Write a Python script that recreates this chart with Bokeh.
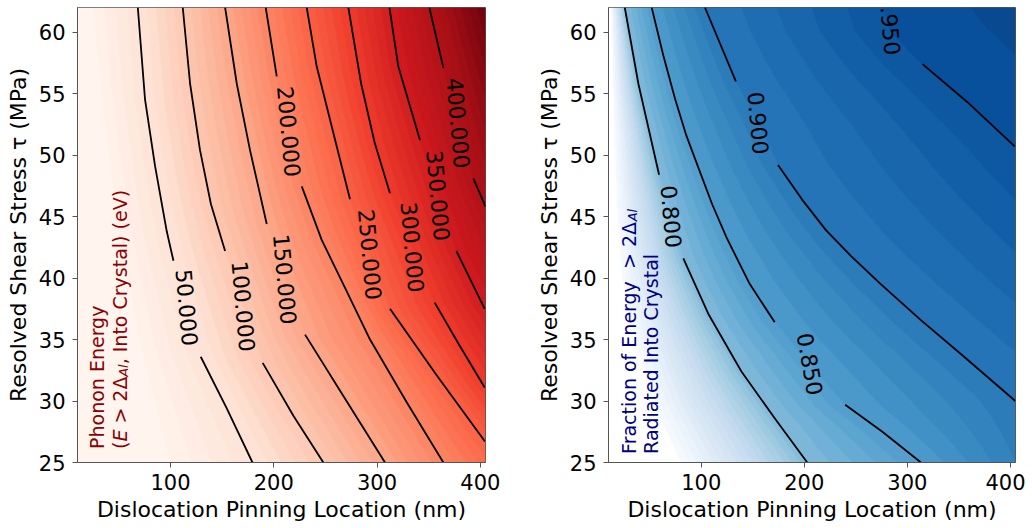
import numpy as np
from bokeh.plotting import figure
from bokeh.layouts import row
from bokeh.models import LinearColorMapper, FixedTicker, Range1d
from bokeh.palettes import Reds256, Blues256
from bokeh.embed import file_html
from bokeh.resources import INLINE
from bokeh.core.properties import value

# ---------------- values ----------------
X_START, X_END = 10, 405          # dislocation pinning location (nm)
TAU_START, TAU_END = 25, 62       # resolved shear stress (MPa)
X_TICKS = [100, 200, 300, 400]
TAU_TICKS = [25, 30, 35, 40, 45, 50, 55, 60]

# Left panel: phonon energy contour lines (eV): points (x nm, tau MPa)
E_LEVELS = [50, 100, 150, 200, 250, 300, 350, 400]
E_UPPER_X = [[68.4, 75.4, 85.1, 96.4, 102.9],
             [111.9, 119.0, 128.6, 139.2, 152.9],
             [152.9, 164.2, 177.0, 193.2],
             [192.2, 202.9],
             [231.9, 241.6, 257.7, 273.8],
             [272.2, 284.6, 297.7, 312.5],
             [312.0, 320.6, 341.6],
             [350.6, 364.2]]
E_UPPER_T = [[62, 54.5, 49.1, 43.8, 41.4],
             [62, 55.8, 50.4, 46.0, 42.2],
             [62, 55.8, 50.4, 44.4],
             [62, 56.4],
             [62, 57.2, 51.8, 46.4],
             [62, 55.8, 51.0, 46.9],
             [62, 57.2, 51.2],
             [62, 57.1]]
E_LOWER_X = [[129.3, 154.5, 179.4],
             [189.3, 219.0, 248.0],
             [230.3, 267.4, 307.7],
             [227.1, 246.4, 269.6, 293.2, 328.7, 364.2],
             [312.5, 357.7, 404.5],
             [355.8, 380.0, 404.2],
             [376.8, 404.2],
             [393.2, 405.0]]
E_LOWER_T = [[33.6, 29.4, 25],
             [33.1, 28.8, 25],
             [35.4, 30.4, 25],
             [47.45, 43.1, 39.1, 35.0, 29.9, 25],
             [37.5, 32.1, 26.7],
             [38.0, 34.5, 31.1],
             [42.2, 37.5],
             [48.1, 45.8]]
E_LABEL_X = [115.8, 170.6, 210.9, 214.8, 293.2, 334.2, 359.2, 378.7]
E_LABEL_T = [37.6, 37.7, 39.9, 51.9, 41.9, 42.5, 46.7, 52.6]
E_LABEL_TEXT = ["50.000", "100.000", "150.000", "200.000",
                "250.000", "300.000", "350.000", "400.000"]
E_LABEL_ANGLE = [-85, -85, -85, -85, -85, -85, -85, -85]
E_FAINT = 10                      # edge of the near-white region
E_FAINT_T = [25, 35, 45, 55, 62]
E_FAINT_X = [100, 70, 48, 33, 25]
E_LEFT_T = [25, 62]
E_LEFT_EDGE = [0, 0]
E_RIGHT_T = [25, 26.7, 31.1, 37.5, 45.8, 50, 55, 62]
E_RIGHT_EDGE = [236, 250, 300, 350, 400, 423, 441, 470]

# Right panel: fraction of energy contour lines
F_LEVELS = [0.80, 0.85, 0.90, 0.95]
F_UPPER_X = [[25.8, 39.0, 59.1],
             [51.9, 63.2, 74.5, 85.5, 97.1, 110.6, 124.5, 146.5, 171.3],
             [103.6, 133.6],
             [277.0]]
F_UPPER_T = [[62, 55.8, 48.4],
             [62, 58.1, 54.6, 51.6, 49.0, 46.0, 43.3, 39.6, 36.4],
             [62, 56.0],
             [62]]
F_LOWER_X = [[82.6, 106.8, 139.0, 171.3, 202.9],
             [239.7, 275.8, 313.2],
             [174.5, 197.7, 221.0, 245.2, 274.2, 312.9, 356.5, 404.8],
             [314.8, 358.4, 404.2]]
F_LOWER_T = [[41.6, 37.1, 32.4, 28.6, 25],
             [29.7, 27.5, 25],
             [49.2, 46.4, 43.9, 41.8, 39.5, 36.6, 33.5, 30.0],
             [57.4, 54.3, 50.7]]
F_LABEL_X = [70.8, 205.5, 155.2, 283.7]
F_LABEL_T = [45.0, 33.0, 52.6, 60.1]
F_LABEL_TEXT = ["0.800", "0.850", "0.900", ".950"]   # top "0" of 0.950 is cut by the frame
F_LABEL_ANGLE = [-85, -80, -85, -85]
F_LOW = 0.64                      # where the blue fill begins
F_WHITE_T = [25, 30, 35, 40, 45, 55, 62]
F_WHITE_X = [80, 52, 35, 23, 18, 14, 12]
F_LEFT_T = [25, 62]
F_LEFT_EDGE = [0.60, 0.60]
F_RIGHT_T = [25, 30.0, 40, 50.7, 62]
F_RIGHT_EDGE = [0.89, 0.90, 0.925, 0.95, 0.965]

# ---------------- helpers ----------------
NX, NY = 408, 457


def build_field(levels, cx_list, ct_list, left_t, left_z, right_t, right_z):
    xs = np.linspace(X_START, X_END, NX)
    ts = np.linspace(TAU_START, TAU_END, NY)
    Z = np.zeros((NY, NX), dtype=np.float32)
    curves = []
    for lev, cx, ct in zip(levels, cx_list, ct_list):
        cx = np.asarray(cx, float)
        ct = np.asarray(ct, float)
        o = np.argsort(ct)
        curves.append((lev, cx[o], ct[o]))
    for i, t in enumerate(ts):
        px = [X_START]
        pz = [np.interp(t, left_t, left_z)]
        for lev, cx, ct in curves:
            if ct[0] <= t <= ct[-1]:
                xc = np.interp(t, ct, cx)
                if X_START < xc < X_END:
                    px.append(xc)
                    pz.append(lev)
        px.append(X_END)
        pz.append(np.interp(t, right_t, right_z))
        o = np.argsort(px)
        Z[i] = np.interp(xs, np.asarray(px)[o], np.asarray(pz)[o])
    return Z


def bands(pal_dark_to_light, n):
    pal = list(reversed(pal_dark_to_light))
    return [pal[min(255, int((i + 0.5) / n * 256))] for i in range(n)]


def make_fig(width, ml, mr):
    p = figure(width=width, height=524, x_range=Range1d(X_START, X_END),
               y_range=Range1d(TAU_START, TAU_END), output_backend="svg",
               toolbar_location=None, min_border_left=ml, min_border_right=mr,
               min_border_top=7, min_border_bottom=60)
    p.grid.visible = False
    p.outline_line_color = "#555555"
    p.outline_line_width = 1
    p.background_fill_color = "white"
    p.xaxis.ticker = FixedTicker(ticks=X_TICKS)
    p.yaxis.ticker = FixedTicker(ticks=TAU_TICKS)
    p.xaxis.axis_label = "Dislocation Pinning Location (nm)"
    p.yaxis.axis_label = "Resolved Shear Stress \u03c4 (MPa)"
    for ax in (p.xaxis[0], p.yaxis[0]):
        ax.axis_label_text_font = "DejaVu Sans"
        ax.axis_label_text_font_size = "22px"
        ax.axis_label_text_font_style = "normal"
        ax.axis_label_text_color = "black"
        ax.major_label_text_font = "DejaVu Sans"
        ax.major_label_text_font_size = "21px"
        ax.major_label_text_color = "black"
        ax.major_tick_out = 5
        ax.major_tick_in = 0
        ax.minor_tick_out = 0
        ax.minor_tick_in = 0
        ax.major_tick_line_color = "#555555"
        ax.axis_line_color = "#555555"
    p.xaxis.major_label_standoff = 6
    p.xaxis.axis_label_standoff = 4
    p.yaxis.major_label_standoff = 7
    p.yaxis.axis_label_standoff = 5
    return p


def draw_contours(p, ux, ut, lx, lt, labx, labt, labtext, ang):
    xs, ys = [], []
    for a, b in zip(ux, ut):
        xs.append(list(a)); ys.append(list(b))
    for a, b in zip(lx, lt):
        xs.append(list(a)); ys.append(list(b))
    p.multi_line(xs=xs, ys=ys, line_color="black", line_width=1.8, line_join="round")
    p.text(x=labx, y=labt, text=labtext, angle=ang,
           angle_units="deg", text_align="center", text_baseline="middle",
           text_font=value("DejaVu Sans"), text_font_size="22px", text_color="black")


# DejaVu Sans advance widths (units of 1/2048 em) for placing text pieces
W = {'(': 799, ')': 799, 'E': 1294, ' ': 651, '\u00a0': 651, '>': 1716, '2': 1303,
     '\u0394': 1401, 'A': 1401, 'l': 569, 'F': 1178, 'r': 842, 'a': 1255, 'c': 1126,
     't': 803, 'i': 569, 'o': 1253, 'n': 1298, 'f': 721, 'e': 1260, 'g': 1300, 'y': 1212}
T_PER_PX = (TAU_END - TAU_START) / 457.0
X_PER_PX = (X_END - X_START) / 408.0
NB = "\u00a0"


def text_width(s, size):
    return sum(W.get(ch, 1200) for ch in s) / 2048.0 * size


def place_pieces(p, x_base, t_start, pieces, color):
    t = t_start
    for txt, size, style, shift in pieces:
        p.text(x=[x_base + shift * X_PER_PX], y=[t], text=[txt], angle=90, angle_units="deg",
               text_align="left", text_baseline="alphabetic", text_font=value("DejaVu Sans"),
               text_font_size=f"{size}px", text_font_style=style, text_color=color)
        t += text_width(txt, size) * T_PER_PX


# ---------------- left panel ----------------
p1 = make_fig(533, 77, 48)
e_cx = [u + [lx] + l for u, lx, l in zip(E_UPPER_X, E_LABEL_X, E_LOWER_X)] + [E_FAINT_X]
e_ct = [u + [lt] + l for u, lt, l in zip(E_UPPER_T, E_LABEL_T, E_LOWER_T)] + [E_FAINT_T]
ZE = build_field(E_LEVELS + [E_FAINT], e_cx, e_ct, E_LEFT_T, E_LEFT_EDGE, E_RIGHT_T, E_RIGHT_EDGE)
red_bands = bands(Reds256, 48)
red_map = LinearColorMapper(palette=red_bands, low=0, high=480,
                            low_color=red_bands[0], high_color="#67000d")
p1.image(image=[ZE], x=X_START, y=TAU_START, dw=X_END - X_START, dh=TAU_END - TAU_START,
         color_mapper=red_map)
draw_contours(p1, E_UPPER_X, E_UPPER_T, E_LOWER_X, E_LOWER_T,
              E_LABEL_X, E_LABEL_T, E_LABEL_TEXT, E_LABEL_ANGLE)
dark_red = "#8b0000"
place_pieces(p1, 29.2, 26.1, [("Phonon Energy", 19, "normal", 0)], dark_red)
place_pieces(p1, 51.0, 26.1, [("(", 19, "normal", 0), ("E", 19, "italic", 0),
                              (NB + ">" + NB + "2\u0394", 19, "normal", 0),
                              ("Al", 13, "italic", 4),
                              (", Into Crystal) (eV)", 19, "normal", 0)], dark_red)

# ---------------- right panel ----------------
p2 = make_fig(492, 75, 10)
f_cx = [u + [lx] + l for u, lx, l in zip(F_UPPER_X, F_LABEL_X, F_LOWER_X)] + [F_WHITE_X]
f_ct = [u + [lt] + l for u, lt, l in zip(F_UPPER_T, F_LABEL_T, F_LOWER_T)] + [F_WHITE_T]
ZF = build_field(F_LEVELS + [F_LOW], f_cx, f_ct, F_LEFT_T, F_LEFT_EDGE, F_RIGHT_T, F_RIGHT_EDGE)
blue_map = LinearColorMapper(palette=bands(Blues256, 36), low=F_LOW, high=1.0,
                             low_color="#ffffff", high_color="#08306b")
p2.image(image=[ZF], x=X_START, y=TAU_START, dw=X_END - X_START, dh=TAU_END - TAU_START,
         color_mapper=blue_map)
draw_contours(p2, F_UPPER_X, F_UPPER_T, F_LOWER_X, F_LOWER_T,
              F_LABEL_X, F_LABEL_T, F_LABEL_TEXT, F_LABEL_ANGLE)
navy = "#000080"
place_pieces(p2, 29.9, 25.7, [("Fraction of Energy" + NB + NB + ">" + NB + "2\u0394", 19, "normal", 0),
                              ("Al", 13, "italic", 4)], navy)
place_pieces(p2, 50.8, 25.7, [("Radiated Into Crystal", 19, "normal", 0)], navy)

layout = row(p1, p2)
open("out.html", "w").write(file_html(layout, INLINE))
